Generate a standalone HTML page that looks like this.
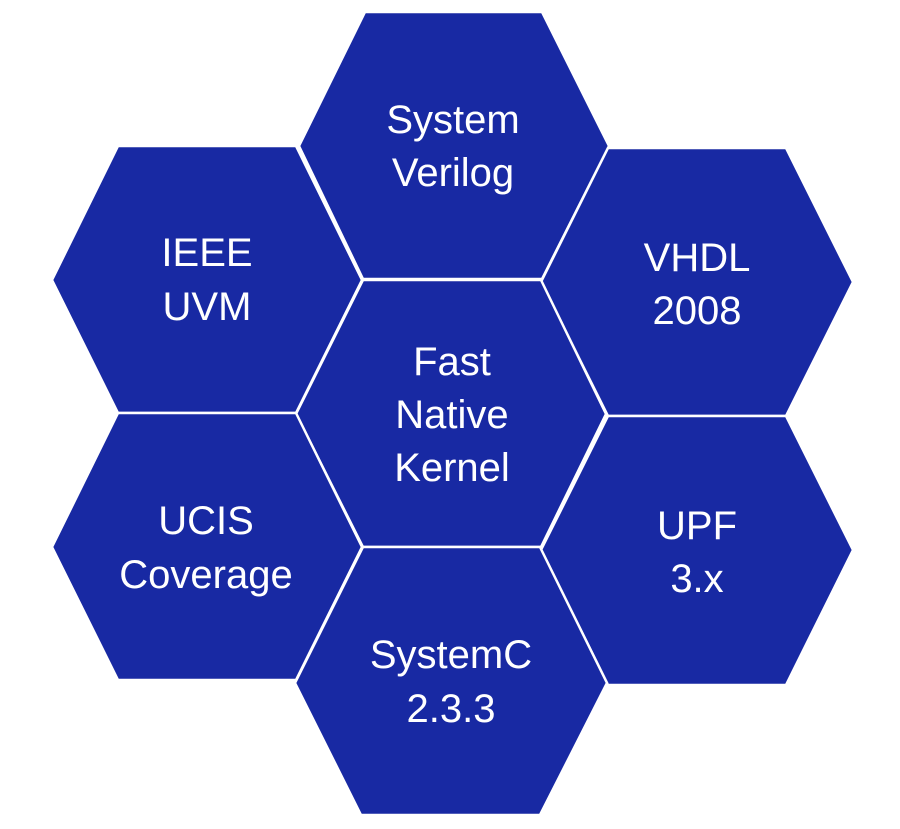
<!DOCTYPE html>
<html><head><meta charset="utf-8"><style>
html,body{margin:0;padding:0;background:#fff;}
svg{display:block;}
text{font-family:"Liberation Sans",sans-serif;font-size:40px;fill:#fff;text-anchor:middle;}
</style></head><body>
<svg width="900" height="829" viewBox="0 0 900 829">
<g fill="#1829a3" stroke="#fff" stroke-width="2.5" stroke-linejoin="miter">
<polygon points="365,12 542,12 609,146 542,279 363,279 299,146"/>
<polygon points="118,146 296,146 362,280 296,413 118,413 52,280"/>
<polygon points="608,148 786,148 853,282 786,416 608,416 541,282"/>
<polygon points="363,280 541,280 606,414 541,547 363,547 296,414"/>
<polygon points="118,413 296,413 362,547 296,680 118,680 52,547"/>
<polygon points="608,416 786,416 853,550 786,685 608,685 541,550"/>
<polygon points="363,547 540,547 607,683 540,815 361,815 295,683"/>
</g>
<text x="453" y="133">System</text>
<text x="453" y="186">Verilog</text>
<text x="207" y="266">IEEE</text>
<text x="207" y="320">UVM</text>
<text x="697" y="271">VHDL</text>
<text x="697" y="324">2008</text>
<text x="452" y="375">Fast</text>
<text x="452" y="428">Native</text>
<text x="452" y="481">Kernel</text>
<text x="206" y="534">UCIS</text>
<text x="206" y="588">Coverage</text>
<text x="697" y="539">UPF</text>
<text x="697" y="592">3.x</text>
<text x="451" y="668">SystemC</text>
<text x="451" y="722">2.3.3</text>
</svg>
</body></html>
